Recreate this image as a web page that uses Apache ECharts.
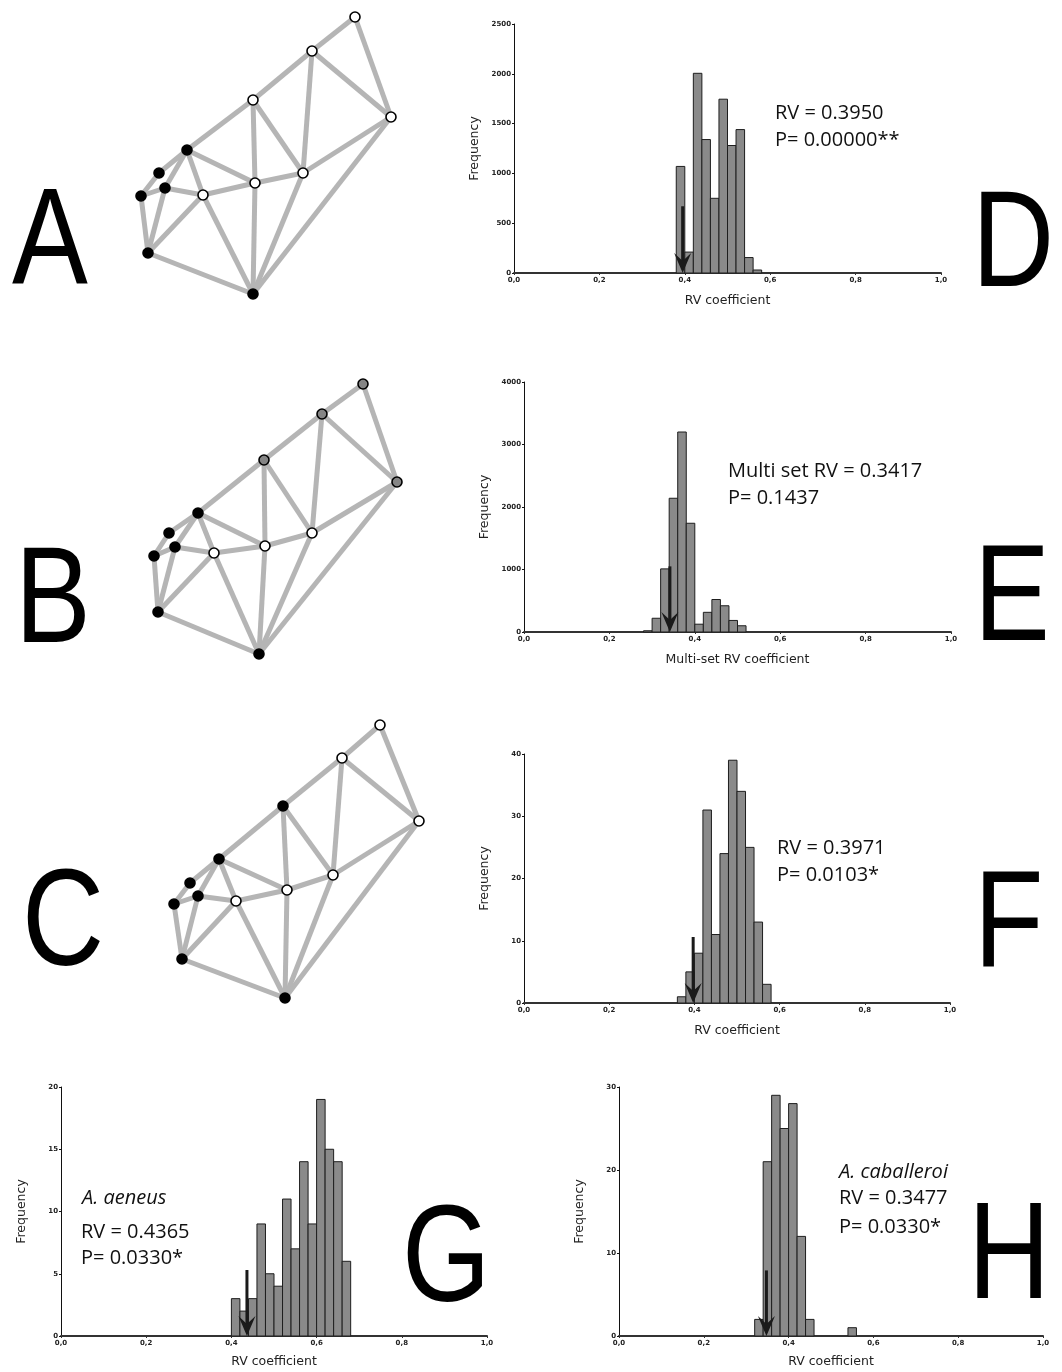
<!DOCTYPE html>
<html>
<head>
<meta charset="utf-8">
<script src="https://cdn.jsdelivr.net/npm/echarts@6/dist/echarts.min.js"></script>
<style>
  html, body { margin: 0; padding: 0; background: #fff; }
  #chart { width: 1062px; height: 1372px; }
</style>
</head>
<body>
<div id="chart"></div>
<script>
// ---- landmark configurations (local diagram units) ----
const landmarksA = [[225,17],[182,51],[261,117],[123,100],[57,150],[29,173],[35,188],[11,196],[73,195],[125,183],[173,173],[18,253],[123,294]]
const landmarksB = [[233,14],[192,44],[267,112],[134,90],[68,143],[39,163],[45,177],[24,186],[84,183],[135,176],[182,163],[28,242],[129,284]]
const landmarksC = [[230,15],[192,48],[269,111],[133,96],[69,149],[40,173],[48,186],[24,194],[86,191],[137,180],[183,165],[32,249],[135,288]]
// w = white, b = black, g = grey
const moduleA = ['w','w','w','w','b','b','b','b','w','w','w','b','b']
const moduleB = ['g','g','g','g','b','b','b','b','w','w','w','b','b']
const moduleC = ['w','w','w','b','b','b','b','b','w','w','w','b','b']
const wireframe = [[0,1],[0,2],[1,2],[1,3],[1,10],[3,4],[3,9],[3,10],[4,5],[4,6],[4,8],[4,9],
  [5,7],[6,7],[6,8],[6,11],[7,11],[8,9],[8,11],[8,12],[9,10],[9,12],[10,2],[10,12],[2,12],[11,12]]

// ---- permutation histograms (bin start, frequency) ----
const binWidth = 0.02
const dStart = [0.38,0.40,0.42,0.44,0.46,0.48,0.50,0.52,0.54,0.56]
const dFreq  = [1070,210,2005,1340,750,1745,1280,1440,155,30]
const eStart = [0.28,0.30,0.32,0.34,0.36,0.38,0.40,0.42,0.44,0.46,0.48,0.50]
const eFreq  = [20,220,1010,2140,3200,1740,125,315,520,420,185,100]
const fStart = [0.36,0.38,0.40,0.42,0.44,0.46,0.48,0.50,0.52,0.54,0.56]
const fFreq  = [1,5,8,31,11,24,39,34,25,13,3]
const gStart = [0.40,0.42,0.44,0.46,0.48,0.50,0.52,0.54,0.56,0.58,0.60,0.62,0.64,0.66]
const gFreq  = [3,2,3,9,5,4,11,7,14,9,19,15,14,6]
const hStart = [0.32,0.34,0.36,0.38,0.40,0.42,0.44,0.54]
const hFreq  = [2,21,29,25,28,12,2,1]

const observedRV = [0.3950, 0.3417, 0.3971, 0.4365, 0.3477]
const arrowTop   = [670, 1050, 10.6, 5.3, 7.9]
const yMax  = [2500, 4000, 40, 20, 30]
const yStep = [500, 1000, 10, 5, 10]
const xNames = ['RV coefficient', 'Multi-set RV coefficient', 'RV coefficient', 'RV coefficient', 'RV coefficient']

const panelLetters = ['A', 'B', 'C', 'D', 'E', 'F', 'G', 'H']
const statsText = [
  ['RV = 0.3950', 'P= 0.00000**'],
  ['Multi set RV = 0.3417', 'P= 0.1437'],
  ['RV = 0.3971', 'P= 0.0103*'],
  ['A. aeneus', 'RV = 0.4365', 'P= 0.0330*'],
  ['A. caballeroi', 'RV = 0.3477', 'P= 0.0330*']
]

// ---- layout ----
const diagramGrids = [
  { left: 130, top: 0, width: 280, height: 310 },
  { left: 130, top: 370, width: 280, height: 310 },
  { left: 150, top: 710, width: 280, height: 310 }
]
const histGrids = [
  { left: 514, top: 24, width: 427, height: 249 },
  { left: 524, top: 382, width: 427, height: 250 },
  { left: 524, top: 754, width: 426, height: 249 },
  { left: 61, top: 1087, width: 426, height: 249 },
  { left: 619, top: 1087, width: 424, height: 249 }
]
const letterPos = [[12, 246], [15, 604], [22, 927], [972, 248], [974, 602], [974, 928], [402, 1263], [968, 1260]]
const statsPos = [
  [[775, 113], [775, 140]],
  [[728, 471], [728, 498]],
  [[777, 848], [777, 875]],
  [[82, 1198], [81, 1232], [81, 1258]],
  [[839, 1172], [839, 1198], [839, 1227]]
]

const FILL = { w: '#ffffff', b: '#000000', g: '#858585' }
const chart = echarts.init(document.getElementById('chart'), null, { renderer: 'canvas', width: 1062, height: 1372 })

function renderBin(params, api) {
  const x0 = api.value(0)
  const p0 = api.coord([x0, 0])
  const p1 = api.coord([x0 + binWidth, api.value(1)])
  return {
    type: 'rect',
    shape: { x: p0[0], y: p1[1], width: p1[0] - p0[0], height: p0[1] - p1[1] },
    style: { fill: '#8a8a8a', stroke: '#1e1e1e', lineWidth: 1 }
  }
}

function renderArrow(params, api) {
  const top = api.coord([api.value(0), api.value(1)])
  const tip = api.coord([api.value(0), 0])
  return {
    type: 'group',
    children: [
      { type: 'line', shape: { x1: top[0], y1: top[1], x2: tip[0], y2: tip[1] - 10 },
        style: { stroke: '#1a1a1a', lineWidth: 3 } },
      { type: 'polygon',
        shape: { points: [[tip[0], tip[1]], [tip[0] - 8.5, tip[1] - 20], [tip[0], tip[1] - 12], [tip[0] + 8.5, tip[1] - 20]] },
        style: { fill: '#1a1a1a' } }
    ]
  }
}

const grid = [...diagramGrids, ...histGrids]
const xAxis = []
const yAxis = []
const series = []

const diagrams = [[landmarksA, moduleA], [landmarksB, moduleB], [landmarksC, moduleC]]
diagrams.forEach(([pts, mod], k) => {
  xAxis.push({ gridIndex: k, type: 'value', min: 0, max: 280, show: false })
  yAxis.push({ gridIndex: k, type: 'value', min: 0, max: 310, inverse: true, show: false })
  series.push({
    type: 'graph',
    coordinateSystem: 'cartesian2d',
    xAxisIndex: k,
    yAxisIndex: k,
    symbol: 'circle',
    symbolSize: 10,
    silent: true,
    animation: false,
    label: { show: false },
    itemStyle: { borderColor: '#000', borderWidth: 1.6 },
    lineStyle: { color: '#b5b5b5', width: 5, opacity: 1, curveness: 0 },
    data: pts.map((p, i) => ({ value: p, itemStyle: { color: FILL[mod[i]] } })),
    links: wireframe.map(([s, t]) => ({ source: s, target: t }))
  })
})

const hists = [[dStart, dFreq], [eStart, eFreq], [fStart, fFreq], [gStart, gFreq], [hStart, hFreq]]
const tickFont = { fontSize: 7, fontWeight: 'bold', color: '#222', fontFamily: 'DejaVu Sans' }
const nameFont = { fontSize: 12.5, color: '#222', fontFamily: 'DejaVu Sans' }
hists.forEach(([start, freq], h) => {
  const gi = h + 3
  xAxis.push({
    gridIndex: gi, type: 'value', min: 0, max: 1, interval: 0.2,
    axisLine: { show: true, lineStyle: { color: '#333', width: 2 } },
    axisTick: { show: true, length: 2, lineStyle: { color: '#333' } },
    axisLabel: { ...tickFont, margin: 4, formatter: v => v.toFixed(1).replace('.', ',') },
    splitLine: { show: false },
    name: xNames[h], nameLocation: 'middle', nameGap: h >= 3 ? 19 : 21,
    nameTextStyle: nameFont
  })
  yAxis.push({
    gridIndex: gi, type: 'value', min: 0, max: yMax[h], interval: yStep[h],
    axisLine: { show: true, lineStyle: { color: '#111', width: 1 } },
    axisTick: { show: true, length: 2, lineStyle: { color: '#111' } },
    axisLabel: { ...tickFont, margin: 3, formatter: v => String(v) },
    splitLine: { show: false },
    name: 'Frequency', nameLocation: 'middle', nameGap: 33,
    nameTextStyle: nameFont
  })
  series.push({
    type: 'custom', xAxisIndex: gi, yAxisIndex: gi, silent: true, animation: false,
    renderItem: renderBin, encode: { x: 0, y: 1 },
    data: start.map((s, i) => [s, freq[i]])
  })
  series.push({
    type: 'custom', xAxisIndex: gi, yAxisIndex: gi, silent: true, animation: false, z: 5,
    renderItem: renderArrow, encode: { x: 0, y: 1 },
    data: [[observedRV[h], arrowTop[h]]]
  })
})

const elements = []
panelLetters.forEach((L, i) => {
  elements.push({
    type: 'text', x: letterPos[i][0], y: letterPos[i][1], scaleX: 0.83,
    style: { text: L, font: '137px "Liberation Sans", Arial, sans-serif', fill: '#000', align: 'left', verticalAlign: 'middle' }
  })
})
statsText.forEach((lines, h) => {
  lines.forEach((t, j) => {
    const italic = t.startsWith('A.')
    elements.push({
      type: 'text', x: statsPos[h][j][0], y: statsPos[h][j][1],
      style: { text: t, font: (italic ? 'italic ' : '') + '20px "Open Sans", sans-serif', fill: '#111', align: 'left', verticalAlign: 'middle' }
    })
  })
})

chart.setOption({
  backgroundColor: '#ffffff',
  animation: false,
  grid,
  xAxis,
  yAxis,
  series,
  graphic: { elements }
})
</script>
</body>
</html>
